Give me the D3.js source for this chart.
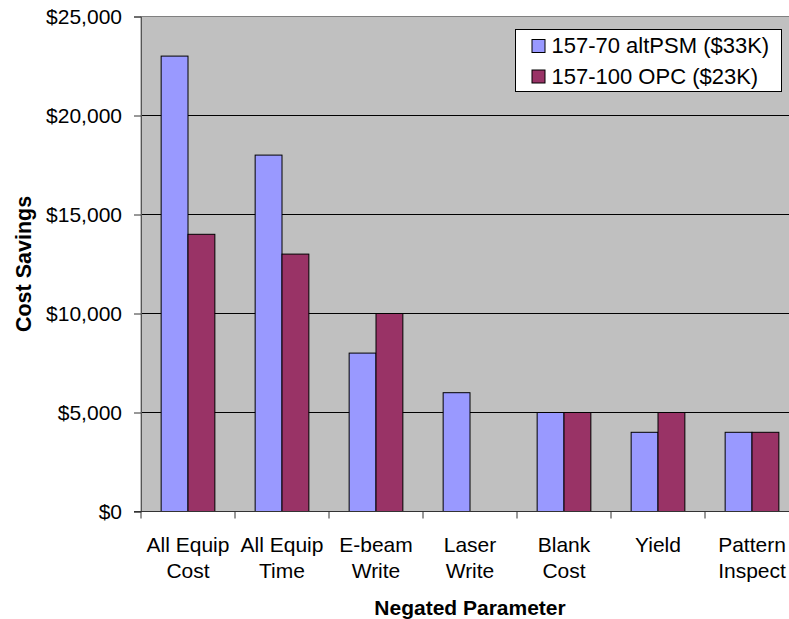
<!DOCTYPE html>
<html>
<head>
<meta charset="utf-8">
<script src="https://cdn.jsdelivr.net/npm/d3@7"></script>
<style>
  html, body { margin: 0; padding: 0; background: #fff; }
  svg { display: block; font-family: "Liberation Sans", Arial, sans-serif; }
</style>
</head>
<body>
<svg id="chart" width="789" height="619"></svg>
<script>
// Cost savings per negated parameter, two mask options
const categories = ["All Equip|Cost", "All Equip|Time", "E-beam|Write", "Laser|Write", "Blank|Cost", "Yield", "Pattern|Inspect"];
const seriesNames = ["157-70 altPSM ($33K)", "157-100 OPC ($23K)"];
const altPSM = [23000, 18000, 8000, 6000, 5000, 4000, 4000];
const opc = [14000, 13000, 10000, 0, 5000, 5000, 4000];
const yTicks = [0, 5000, 10000, 15000, 20000, 25000];
const colors = ["#9999FF", "#993366"];

const svg = d3.select("#chart");
const plot = { left: 141, right: 799, top: 16.5, bottom: 511.5 };

const x0 = d3.scaleBand().domain(categories).range([plot.left, plot.right]).padding(0);
const x1 = d3.scaleBand().domain(seriesNames).range([0, x0.bandwidth()])
  .paddingInner(0).paddingOuter(0.75);
const y = d3.scaleLinear().domain([0, 25000]).range([plot.bottom, plot.top]);
const color = d3.scaleOrdinal().domain(seriesNames).range(colors);

// plot area background
svg.append("rect")
  .attr("x", plot.left).attr("y", plot.top)
  .attr("width", plot.right - plot.left).attr("height", plot.bottom - plot.top)
  .attr("fill", "#C0C0C0").attr("stroke", "#808080").attr("stroke-width", 1);

// horizontal gridlines
svg.append("g").selectAll("line").data(yTicks.filter(d => d > 0 && d < 25000)).join("line")
  .attr("x1", plot.left).attr("x2", plot.right)
  .attr("y1", d => y(d)).attr("y2", d => y(d))
  .attr("stroke", "#000").attr("stroke-width", 1);

// bars
const rows = categories.map((c, i) => ({ cat: c, values: [altPSM[i], opc[i]] }));
svg.append("g").selectAll("g").data(rows).join("g")
  .attr("transform", d => `translate(${x0(d.cat)},0)`)
  .selectAll("rect")
  .data(d => d.values.map((v, j) => ({ name: seriesNames[j], value: v })).filter(d => d.value > 0))
  .join("rect")
  .attr("x", d => x1(d.name))
  .attr("y", d => y(d.value))
  .attr("width", x1.bandwidth())
  .attr("height", d => y(0) - y(d.value))
  .attr("fill", d => color(d.name))
  .attr("stroke", "#000").attr("stroke-width", 1);

// y axis
const yAxis = svg.append("g")
  .attr("transform", `translate(${plot.left},0)`)
  .call(d3.axisLeft(y).tickValues(yTicks).tickSize(7).tickPadding(12).tickFormat(d3.format("$,.0f")));
yAxis.select(".domain").attr("stroke", "#555");
yAxis.selectAll(".tick line").attr("stroke", "#333");
yAxis.selectAll("text").attr("font-size", 21).attr("fill", "#000")
  .attr("font-family", "Liberation Sans, Arial, sans-serif");

// x axis line and category ticks
svg.append("line")
  .attr("x1", plot.left - 7).attr("x2", plot.right)
  .attr("y1", plot.bottom).attr("y2", plot.bottom)
  .attr("stroke", "#333").attr("stroke-width", 1);
const boundaries = categories.map(c => x0(c)).concat([x0(categories[categories.length - 1]) + x0.bandwidth()]);
svg.append("g").selectAll("line").data(boundaries).join("line")
  .attr("x1", d => d).attr("x2", d => d)
  .attr("y1", plot.bottom).attr("y2", plot.bottom + 7)
  .attr("stroke", "#333").attr("stroke-width", 1);

// category labels (two lines)
const labels = svg.append("g").attr("font-size", 21).attr("fill", "#000").attr("text-anchor", "middle");
labels.selectAll("text").data(categories).join("text")
  .attr("x", d => x0(d) + x0.bandwidth() / 2)
  .attr("y", 551.7)
  .each(function (d) {
    const t = d3.select(this);
    d.split("|").forEach((line, i) => {
      t.append("tspan").attr("x", x0(d) + x0.bandwidth() / 2).attr("dy", i === 0 ? 0 : 26.7).text(line);
    });
  });

// axis titles
svg.append("text")
  .attr("x", (plot.left + plot.right) / 2).attr("y", 615)
  .attr("text-anchor", "middle").attr("font-size", 21).attr("font-weight", "bold")
  .text("Negated Parameter");
svg.append("text")
  .attr("transform", `translate(31,${(plot.top + plot.bottom) / 2}) rotate(-90)`)
  .attr("text-anchor", "middle").attr("font-size", 21.5).attr("font-weight", "bold")
  .text("Cost Savings");

// legend
const legend = svg.append("g");
legend.append("rect")
  .attr("x", 515.5).attr("y", 29.5).attr("width", 266).attr("height", 62)
  .attr("fill", "#fff").attr("stroke", "#000").attr("stroke-width", 1);
const items = legend.selectAll("g.item").data(seriesNames).join("g").attr("class", "item")
  .attr("transform", (d, i) => `translate(0,${i * 30.5})`);
items.append("rect")
  .attr("x", 532).attr("y", 39.5).attr("width", 13).attr("height", 13)
  .attr("fill", d => color(d)).attr("stroke", "#000").attr("stroke-width", 1);
items.append("text")
  .attr("x", 551.5).attr("y", 53.3).attr("font-size", 22).attr("fill", "#000")
  .text(d => d);
</script>
</body>
</html>
